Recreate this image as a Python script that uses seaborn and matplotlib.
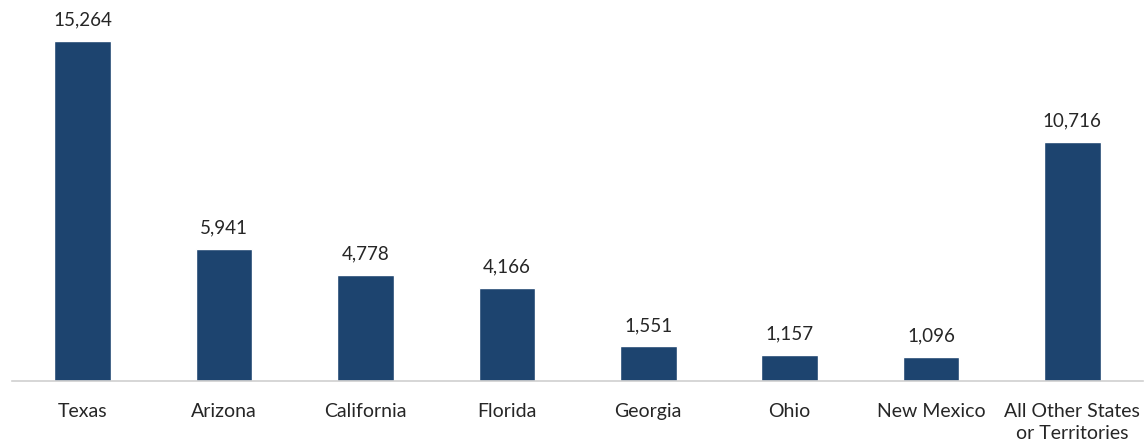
import pandas as pd
import matplotlib.pyplot as plt
import seaborn as sns

## data
states = ["Texas", "Arizona", "California", "Florida", "Georgia", "Ohio",
          "New Mexico", "All Other States\nor Territories"]
counts = [15264, 5941, 4778, 4166, 1551, 1157, 1096, 10716]

df = pd.DataFrame({"state": states, "count": counts})

sns.set_style("white")
plt.rcParams["font.family"] = ["Lato", "DejaVu Sans"]

fig = plt.figure(figsize=(11.45, 4.48), dpi=100)
ax = fig.add_axes([0.0105, 0.1496, 0.9878, 0.8504])

sns.barplot(data=df, x="state", y="count", color="#1D446F", width=0.4,
            saturation=1, ax=ax)

## value labels above bars
for c in ax.containers:
    ax.bar_label(c, labels=[f"{v:,}" for v in counts], padding=9,
                 fontsize=13.5, color="#262626")

ax.set_xlim(-0.5, 7.5)
ax.set_ylim(0, 17100)
ax.set_xlabel("")
ax.set_ylabel("")
ax.set_yticks([])
ax.tick_params(axis="x", length=0, pad=16, labelsize=14, labelcolor="#262626")
for lbl in ax.get_xticklabels():
    lbl.set_linespacing(1.35)
for s in ["top", "left", "right"]:
    ax.spines[s].set_visible(False)
ax.spines["bottom"].set_color("#D0D0D0")
ax.spines["bottom"].set_linewidth(1.2)

plt.savefig("out.png", dpi=100)
